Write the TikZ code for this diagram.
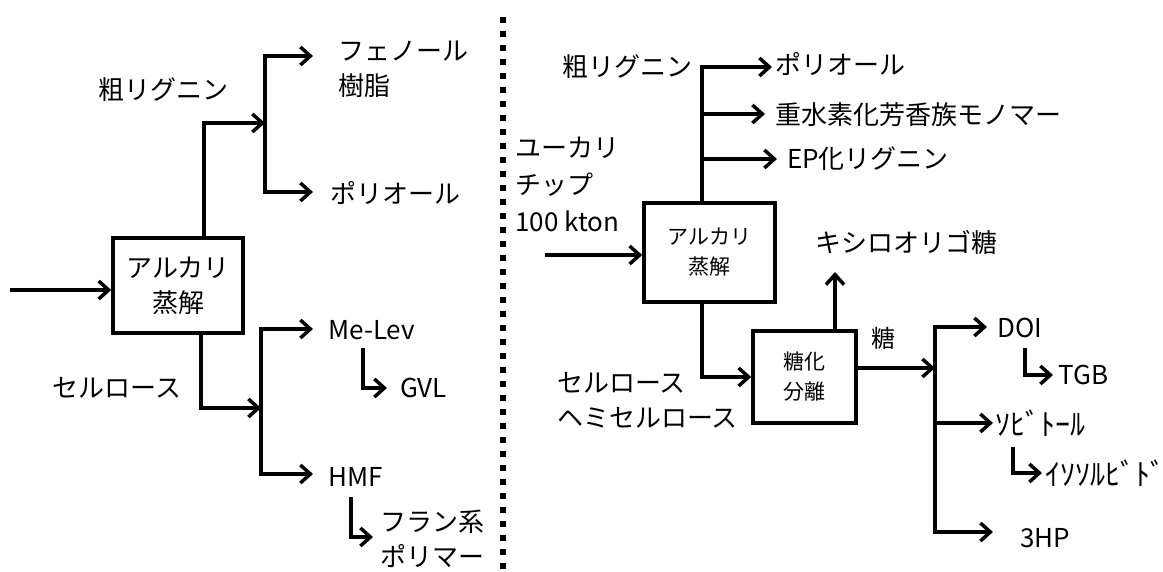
\documentclass[tikz,border=0pt]{standalone}
\usepackage{fontspec}
\setmainfont{Noto Sans CJK JP}
\usetikzlibrary{arrows.meta, positioning}
\tikzset{
    >={Straight Barb[length=10pt, width=18pt]},
    % Text
    big/.style={font=\fontsize{26}{35}\selectfont},
    mid/.style={font=\fontsize{21}{30}\selectfont},
    half/.style={font=\fontsize{30}{35}\selectfont},
    lbl/.style={big, inner sep=0pt, align=left},
    % Shapes
    stage/.style={rectangle, draw, line width=3.5pt, align=center, inner sep=0pt},
    % Flow
    flow/.style={->, line width=3.5pt},
    divider/.style={line width=6pt, dash pattern=on 6pt off 8pt}
}

\begin{document}
\begin{tikzpicture}[x=1pt, y=-1pt]
\useasboundingbox (0,0) rectangle (1163,571);

% left: lignin / cellulose routes
\node[stage, big, minimum width=130pt, minimum height=95pt] (lbox) at (178,285.5) {アルカリ\\蒸解};
\node[lbl, anchor=center] (lcrude) at (163,90) {粗リグニン};
\node[lbl, anchor=west] (lphen) at (338,69.5) {フェノール\\樹脂};
\node[lbl, anchor=west] (lpoly) at (330,193) {ポリオール};
\node[lbl, anchor=center] (lcell) at (117,388) {セルロース};
\node[lbl, anchor=west] (lmelev) at (328,330) {Me-Lev};
\node[lbl, anchor=west] (lgvl) at (400,388) {GVL};
\node[lbl, anchor=west] (lhmf) at (328,477) {HMF};
\node[lbl, anchor=west] (lfuran) at (380,539) {フラン系\\ポリマー};

\coordinate (lin) at (10,290);
\coordinate (ljt) at (265,123);
\coordinate (ljb) at (261,408);
\coordinate (lphenin) at (313,56);
\coordinate (lpolyin) at (313,192);
\coordinate (lmelevin) at (313,329);
\coordinate (lhmfin) at (313,474);
\coordinate (lgvlout) at (363,348);
\coordinate (lgvlin) at (387,388);
\coordinate (lfuranout) at (351,497);
\coordinate (lfuranin) at (373,537);

\draw[flow] (lin) -- (lin -| lbox.west);
\draw[flow] ([xshift=26pt]lbox.north) |- (ljt);
\draw[flow] (ljt) |- (lphenin);
\draw[flow] (ljt) |- (lpolyin);
\draw[flow] ([xshift=23pt]lbox.south) |- (ljb);
\draw[flow] (ljb) |- (lmelevin);
\draw[flow] (ljb) |- (lhmfin);
\draw[flow] (lgvlout) |- (lgvlin);
\draw[flow] (lfuranout) |- (lfuranin);

% separator
\coordinate (dtop) at (503,17);
\coordinate (dbot) at (503,571);
\draw[divider] (dtop) -- (dbot);

% right: eucalyptus chips
\node[lbl, anchor=center] (rcrude) at (627,67) {粗リグニン};
\node[stage, mid, minimum width=131pt, minimum height=99pt] (rbox) at (709.5,252.5) {アルカリ\\蒸解};
\node[lbl, anchor=west] (rpoly) at (775,64) {ポリオール};
\node[lbl, anchor=west] (rmono) at (775,115) {重水素化芳香族モノマー};
\node[lbl, anchor=west] (rep) at (787,159) {EP化リグニン};
\node[lbl, anchor=west, font=\fontsize{26}{37}\selectfont] (rfeed) at (515,184.5) {ユーカリ\\チップ\\100 kton};
\node[lbl, anchor=west] (rcell) at (557,400) {セルロース\\ヘミセルロース};
\node[stage, mid, minimum width=103pt, minimum height=92pt] (rsep) at (804.5,377) {糖化\\分離};
\node[lbl, anchor=center] (rxylo) at (906,242) {キシロオリゴ糖};
\node[lbl, anchor=center, font=\fontsize{24}{30}\selectfont] (rsugar) at (883,338) {糖};
\node[lbl, anchor=west] (rdoi) at (997,328) {DOI};
\node[lbl, anchor=west] (rtgb) at (1058,375) {TGB};
\node[lbl, half, anchor=west] (rsorb) at (995,423) {ｿﾋﾞﾄｰﾙ};
\node[lbl, half, anchor=west] (risos) at (1045,473) {ｲｿｿﾙﾋﾞﾄﾞ};
\node[lbl, anchor=west] (r3hp) at (1020,538) {3HP};

\coordinate (rjt) at (702,67);
\coordinate (rpolyin) at (772,67);
\coordinate (rmonoin) at (765,114);
\coordinate (repin) at (777,159);
\coordinate (rin) at (545,255);
\coordinate (rxyloin) at (835,272);
\coordinate (rjs) at (935,368);
\coordinate (rdoiin) at (987,327);
\coordinate (rsorbin) at (993,423);
\coordinate (r3hpin) at (993,532);
\coordinate (rtgbout) at (1025,348);
\coordinate (rtgbin) at (1053,375);
\coordinate (risosout) at (1013,447);
\coordinate (risosin) at (1042,473);

\draw[flow] (rin) -- (rin -| rbox.west);
\draw[flow] (rbox.north -| rjt) |- (rpolyin);
\draw[flow] (rjt |- rmonoin) -- (rmonoin);
\draw[flow] (rjt |- repin) -- (repin);
\draw[flow] (rbox.south -| rjt) |- (rsep.west);
\draw[flow] (rsep.north -| rxyloin) -- (rxyloin);
\draw[flow] (rsep.east |- rjs) -- (rjs);
\draw[flow] (rjs) |- (rdoiin);
\draw[flow] (rjs) |- (rsorbin);
\draw[flow] (rjs) |- (r3hpin);
\draw[flow] (rtgbout) |- (rtgbin);
\draw[flow] (risosout) |- (risosin);

\end{tikzpicture}
\end{document}
